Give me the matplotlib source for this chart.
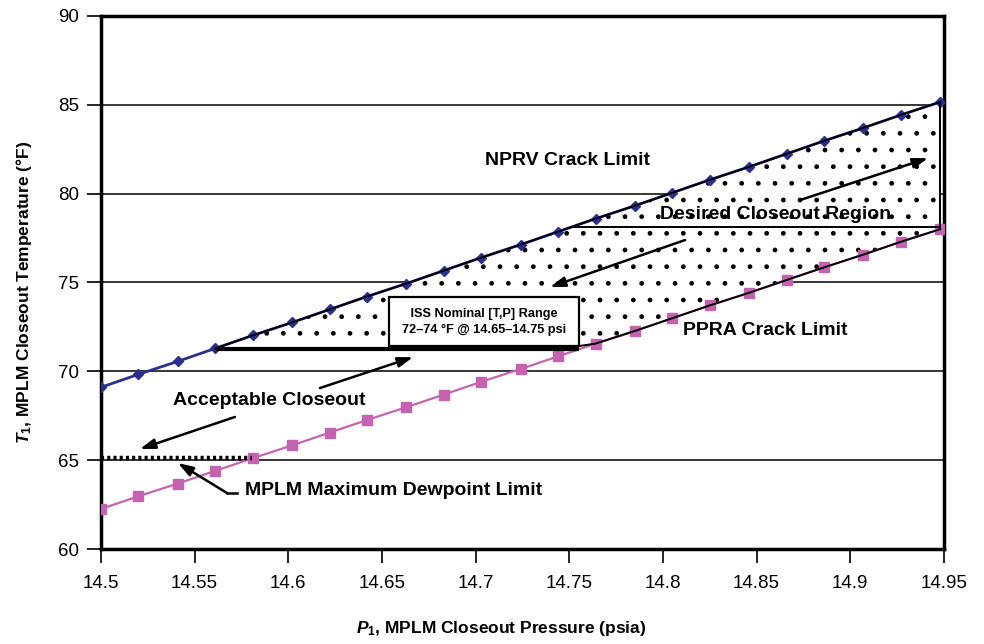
import numpy as np
import matplotlib
matplotlib.use("Agg")
import matplotlib.pyplot as plt

# valores
pressao = [14.500, 14.520, 14.541, 14.561, 14.581, 14.602, 14.622, 14.642,
           14.663, 14.683, 14.703, 14.724, 14.744, 14.764, 14.785, 14.805,
           14.825, 14.846, 14.866, 14.886, 14.907, 14.927, 14.948]
nprv = [69.10, 69.83, 70.56, 71.29, 72.02, 72.75, 73.48, 74.21, 74.94, 75.67,
        76.40, 77.13, 77.86, 78.59, 79.32, 80.05, 80.78, 81.51, 82.24, 82.97,
        83.70, 84.43, 85.16]
ppra = [62.25, 62.97, 63.68, 64.40, 65.11, 65.83, 66.55, 67.26, 67.98, 68.69,
        69.41, 70.13, 70.84, 71.56, 72.27, 72.99, 73.71, 74.42, 75.14, 75.85,
        76.57, 77.29, 78.00]
nominal_min = 71.25
desejado_min = 78.1
ponto_orvalho = 65.1

xticks = [14.5, 14.55, 14.6, 14.65, 14.7, 14.75, 14.8, 14.85, 14.9, 14.95]
xtick_labels = ["14.5", "14.55", "14.6", "14.65", "14.7", "14.75", "14.8",
                "14.85", "14.9", "14.95"]
yticks = [60, 65, 70, 75, 80, 85, 90]

plt.rcParams["font.family"] = ["Liberation Sans", "DejaVu Sans"]
plt.rcParams["mathtext.fontset"] = "custom"
plt.rcParams["mathtext.it"] = "Liberation Sans:italic:bold"
plt.rcParams["mathtext.rm"] = "Liberation Sans:bold"
plt.rcParams["mathtext.bf"] = "Liberation Sans:bold"
plt.rcParams["hatch.linewidth"] = 1.0

AZUL = "#2b2f8f"
ROSA = "#c563b0"

x = np.array(pressao)
azul = np.array(nprv)
rosa = np.array(ppra)

fig = plt.figure(figsize=(9.84, 6.44), dpi=100)
ax = fig.add_axes([0.1026, 0.1475, 0.8567, 0.8277])
ax.set_xlim(14.5, 14.95)
ax.set_ylim(60, 90)

# linhas de grade horizontais
for y in yticks[1:-1]:
    ax.axhline(y, color="black", lw=1.1, zorder=1)

# regiao pontilhada
m = x >= 14.56
inferior = np.maximum(rosa[m], nominal_min)
ax.fill_between(x[m], inferior, azul[m], facecolor="white", hatch=".",
                edgecolor="black", linewidth=0, zorder=2)

# series
ax.plot(x, azul, color=AZUL, lw=2, marker="D", markersize=5.5, zorder=3)
ax.plot(x, rosa, color=ROSA, lw=1.6, marker="s", markersize=7.5, zorder=3)

# contornos pretos da regiao
ax.plot(x[m], azul[m], color="black", lw=1.4, zorder=4)
ax.plot(x[m], inferior, color="black", lw=1.4, zorder=4)
ax.vlines(x[-1], rosa[-1], azul[-1], color="black", lw=1.4, zorder=4)
x_nom = np.interp(nominal_min, rosa, x)
ax.hlines(nominal_min, x[3], x_nom, color="black", lw=3, zorder=5)
x_des = np.interp(desejado_min, azul, x)
ax.hlines(desejado_min, x_des, x[-1], color="black", lw=1.4, zorder=4)
x_orv = np.interp(ponto_orvalho, rosa, x)
ax.hlines(ponto_orvalho, x[0], x_orv, color="black", lw=3.2,
          linestyles=(0, (0.7, 0.7)), zorder=4)

# textos
bold = dict(fontsize=14, fontweight="bold", color="black", zorder=6)
ax.text(14.749, 81.89, "NPRV Crack Limit", ha="center", va="center", **bold)
ax.text(14.860, 78.80, "Desired Closeout Region", ha="center", va="center", **bold)
ax.text(14.8545, 72.32, "PPRA Crack Limit", ha="center", va="center", **bold)
ax.text(14.5897, 68.38, "Acceptable Closeout", ha="center", va="center", **bold)
ax.text(14.5769, 63.32, "MPLM Maximum Dewpoint Limit", ha="left", va="center", **bold)
ax.text(14.7045, 72.80, "   ISS Nominal [T,P] Range   \n72–74 °F @ 14.65–14.75 psi",
        ha="center", va="center", fontsize=9.2, fontweight="bold",
        linespacing=1.45, zorder=7,
        bbox=dict(boxstyle="square,pad=0.85", facecolor="white",
                  edgecolor="black", linewidth=1.6))

seta = dict(arrowstyle="-|>,head_length=0.9,head_width=0.3", color="black",
            lw=1.8, shrinkA=0, shrinkB=0)
ax.annotate("", xy=(14.9415, 82.00), xytext=(14.8732, 79.64), arrowprops=seta, zorder=6)
ax.annotate("", xy=(14.7397, 74.74), xytext=(14.8118, 77.39), arrowprops=seta, zorder=6)
ax.annotate("", xy=(14.5208, 65.63), xytext=(14.5715, 67.43), arrowprops=seta, zorder=6)
ax.annotate("", xy=(14.6666, 70.80), xytext=(14.6169, 69.06), arrowprops=seta, zorder=6)
ax.plot([14.5726, 14.5673], [63.15, 63.15], color="black", lw=1.8, zorder=6)
ax.annotate("", xy=(14.5411, 64.84), xytext=(14.5673, 63.15), arrowprops=seta, zorder=6)

# eixos
ax.set_xticks(xticks)
ax.set_xticklabels(xtick_labels)
ax.set_yticks(yticks)
ax.tick_params(axis="both", direction="out", length=10, width=1.2,
               labelsize=13.5, pad=6)
ax.tick_params(axis="x", pad=9)
for lado in ["left", "right", "top", "bottom"]:
    ax.spines[lado].set_linewidth(2.5)

fig.text(501 / 984, 1 - 628 / 644, r"$P_1$, MPLM Closeout Pressure (psia)",
         ha="center", va="center", fontsize=12.5, fontweight="bold")
fig.text(24 / 984, 1 - 292 / 644, r"$T_1$, MPLM Closeout Temperature (°F)",
         ha="center", va="center", fontsize=12.5, fontweight="bold", rotation=90)

fig.savefig("out.png", dpi=100)
